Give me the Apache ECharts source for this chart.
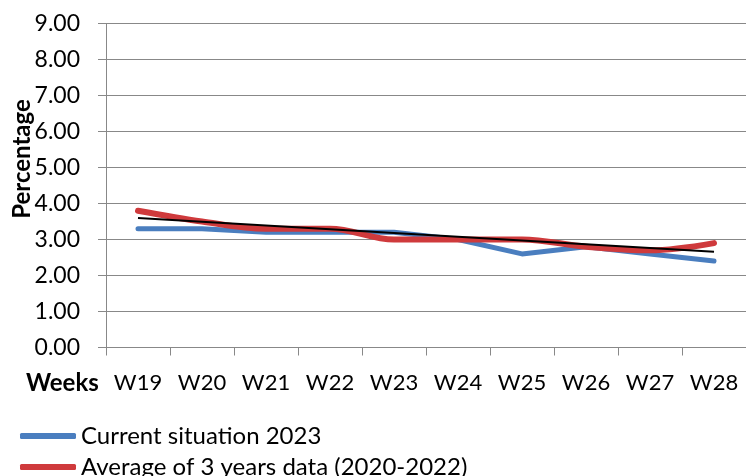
<!DOCTYPE html>
<html>
<head>
<meta charset="utf-8">
<script src="https://cdn.jsdelivr.net/npm/echarts@6/dist/echarts.min.js"></script>
<style>html,body{margin:0;padding:0;background:#fff}#c{width:746px;height:476px}</style>
</head>
<body>
<div id="c"></div>
<script>
const categories = ['W19','W20','W21','W22','W23','W24','W25','W26','W27','W28'];
const current2023 = [3.3, 3.3, 3.2, 3.2, 3.2, 3.0, 2.6, 2.8, 2.6, 2.4];
const average3yr = [3.8, 3.5, 3.3, 3.3, 3.0, 3.0, 3.0, 2.8, 2.7, 2.9];
const trendEnds = [['W19', 3.6], ['W28', 2.66]];
const yTicks = [0, 1, 2, 3, 4, 5, 6, 7, 8, 9];
const seriesNames = ['Current situation 2023', 'Average of 3 years data (2020-2022)'];

const FONT = 'Lato';
const legendBase = {
  left: 20, padding: 0, itemWidth: 56, itemHeight: 6, icon: 'roundRect',
  textStyle: { fontFamily: FONT, fontSize: 24, color: '#000' }
};
const chart = echarts.init(document.getElementById('c'));
chart.setOption({
  animation: false,
  textStyle: { fontFamily: FONT },
  grid: { left: 106, right: 0, top: 23.5, bottom: 128.5, containLabel: false },
  legend: [
    Object.assign({}, legendBase, { top: 424, data: [seriesNames[0]] }),
    Object.assign({}, legendBase, { top: 455, data: [seriesNames[1]] })
  ],
  graphic: [
    { type: 'text', x: 22, y: 159, rotation: Math.PI / 2,
      style: { text: 'Percentage', fontFamily: FONT, fontSize: 24, fontWeight: 'bold', fill: '#000', textAlign: 'center', textVerticalAlign: 'middle' } },
    { type: 'text', x: 26, y: 383,
      style: { text: 'Weeks', fontFamily: FONT, fontSize: 24, fontWeight: 'bold', fill: '#000', textAlign: 'left', textVerticalAlign: 'middle' } }
  ],
  xAxis: {
    type: 'category', data: categories, boundaryGap: true,
    axisLine: { lineStyle: { color: '#888', width: 1 } },
    axisTick: { show: true, interval: 0, length: 8, lineStyle: { color: '#888' } },
    axisLabel: { interval: 0, fontFamily: FONT, fontSize: 22, color: '#000', margin: 24 },
    splitLine: { show: false }
  },
  yAxis: {
    type: 'value', min: 0, max: 9, interval: 1,
    axisLine: { show: true, lineStyle: { color: '#888', width: 1 } },
    axisTick: { show: true, length: 8, lineStyle: { color: '#888' } },
    axisLabel: { fontFamily: FONT, fontSize: 23, color: '#000', margin: 26,
      formatter: v => yTicks.includes(v) ? v.toFixed(2) : '' },
    splitLine: { show: true, lineStyle: { color: '#888', width: 1 } }
  },
  series: [
    { name: seriesNames[0], type: 'line', data: current2023, showSymbol: false, symbol: 'none',
      color: '#4a7ebf', lineStyle: { width: 5, color: '#4a7ebf', cap: 'round', join: 'round' }, z: 2 },
    { name: seriesNames[1], type: 'line', data: average3yr, smooth: 0.35, showSymbol: false, symbol: 'none',
      color: '#cf3a3c', lineStyle: { width: 6, color: '#cf3a3c', cap: 'round', join: 'round' }, z: 3 },
    { name: 'Trend', type: 'line', data: trendEnds, showSymbol: false, symbol: 'none',
      lineStyle: { width: 2, color: '#000' }, z: 4 }
  ]
});
</script>
</body>
</html>
